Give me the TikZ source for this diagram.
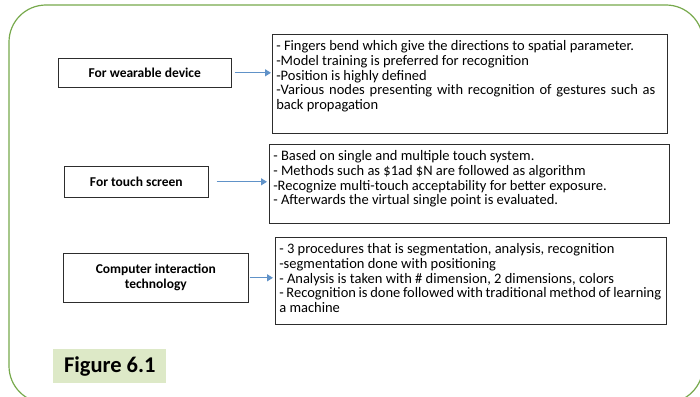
\documentclass[tikz,border=0pt]{standalone}
\usepackage{fontspec}
\setmainfont{Carlito}
\usetikzlibrary{arrows.meta}

\definecolor{frameGreen}{RGB}{119,169,76}
\definecolor{arrowBlue}{RGB}{96,146,200}
\definecolor{labelGreen}{RGB}{221,233,199}
\definecolor{boxGray}{RGB}{45,45,45}

\begin{document}
\begin{tikzpicture}[x=1pt, y=-1pt, >={Triangle[length=6pt,width=7pt]}, semithick]
        \tikzset{
           topic/.style={
                        rectangle,
                        draw=boxGray,
                        fill=white,
                        inner sep=0pt,
                        anchor=north west,
                        align=center,
                        font=\fontsize{13.5}{15}\selectfont\bfseries
                       },
           info/.style={
                        rectangle,
                        draw=boxGray,
                        fill=white,
                        inner xsep=4pt,
                        inner ysep=6.5pt,
                        anchor=north west,
                        font=\fontsize{14.5}{14.6}\selectfont
                       },
           link/.style={->, draw=arrowBlue, line width=1.2pt},
                 };
        \useasboundingbox (0,0) rectangle (700,396);
        %----------------
        \draw[frameGreen, line width=1.2pt, rounded corners=37pt] (9,5) rectangle (703,403);
        %----------------
        \node[topic, minimum width=173pt, minimum height=29pt] (wearable) at (58,58) {For wearable device};
        \node[info] (wearableInfo) at (272,34) {\parbox[t][86pt][t]{387pt}{\setlength{\rightskip}{8pt}%
            - Fingers bend which give the directions to spatial parameter.\\
            -Model training is preferred for recognition\\
            -Position is highly defined\\
            -Various nodes presenting with recognition of gestures such as\linebreak
            back propagation}};
        \node[topic, minimum width=144pt, minimum height=31pt] (touch) at (64,166) {For touch screen};
        \node[info] (touchInfo) at (269,144) {\parbox[t][66pt][t]{392pt}{\raggedright
            - Based on single and multiple touch system.\\
            - Methods such as \$1ad \$N are followed as algorithm\\
            -Recognize multi-touch acceptability for better exposure.\\
            - Afterwards the virtual single point is evaluated.}};
        \node[topic, minimum width=185pt, minimum height=49pt] (interaction) at (63,253) {Computer interaction\\technology};
        \node[info] (interactionInfo) at (275,237) {\parbox[t][74pt][t]{383pt}{\setlength{\rightskip}{1pt}%
            - 3 procedures that is segmentation, analysis, recognition\\
            -segmentation done with positioning\\
            - Analysis is taken with \# dimension, 2 dimensions, colors\\
            - Recognition is done followed with traditional method of learning\linebreak
            a machine}};
        \node[fill=labelGreen, inner sep=0pt, anchor=north west, minimum width=113pt, minimum height=34pt,
              font=\fontsize{22.5}{24}\selectfont\bfseries] (figLabel) at (53,349) {Figure 6.1};
        %----------------
        \draw[link, shorten <=3pt, shorten >=1pt] (wearable.east) -- (wearable.east -| wearableInfo.west);
        \draw[link, shorten <=8pt, shorten >=2pt] (touch.east) -- (touch.east -| touchInfo.west);
        \draw[link, shorten <=1pt, shorten >=2pt] (interaction.east) -- (interaction.east -| interactionInfo.west);
    \end{tikzpicture}
\end{document}
